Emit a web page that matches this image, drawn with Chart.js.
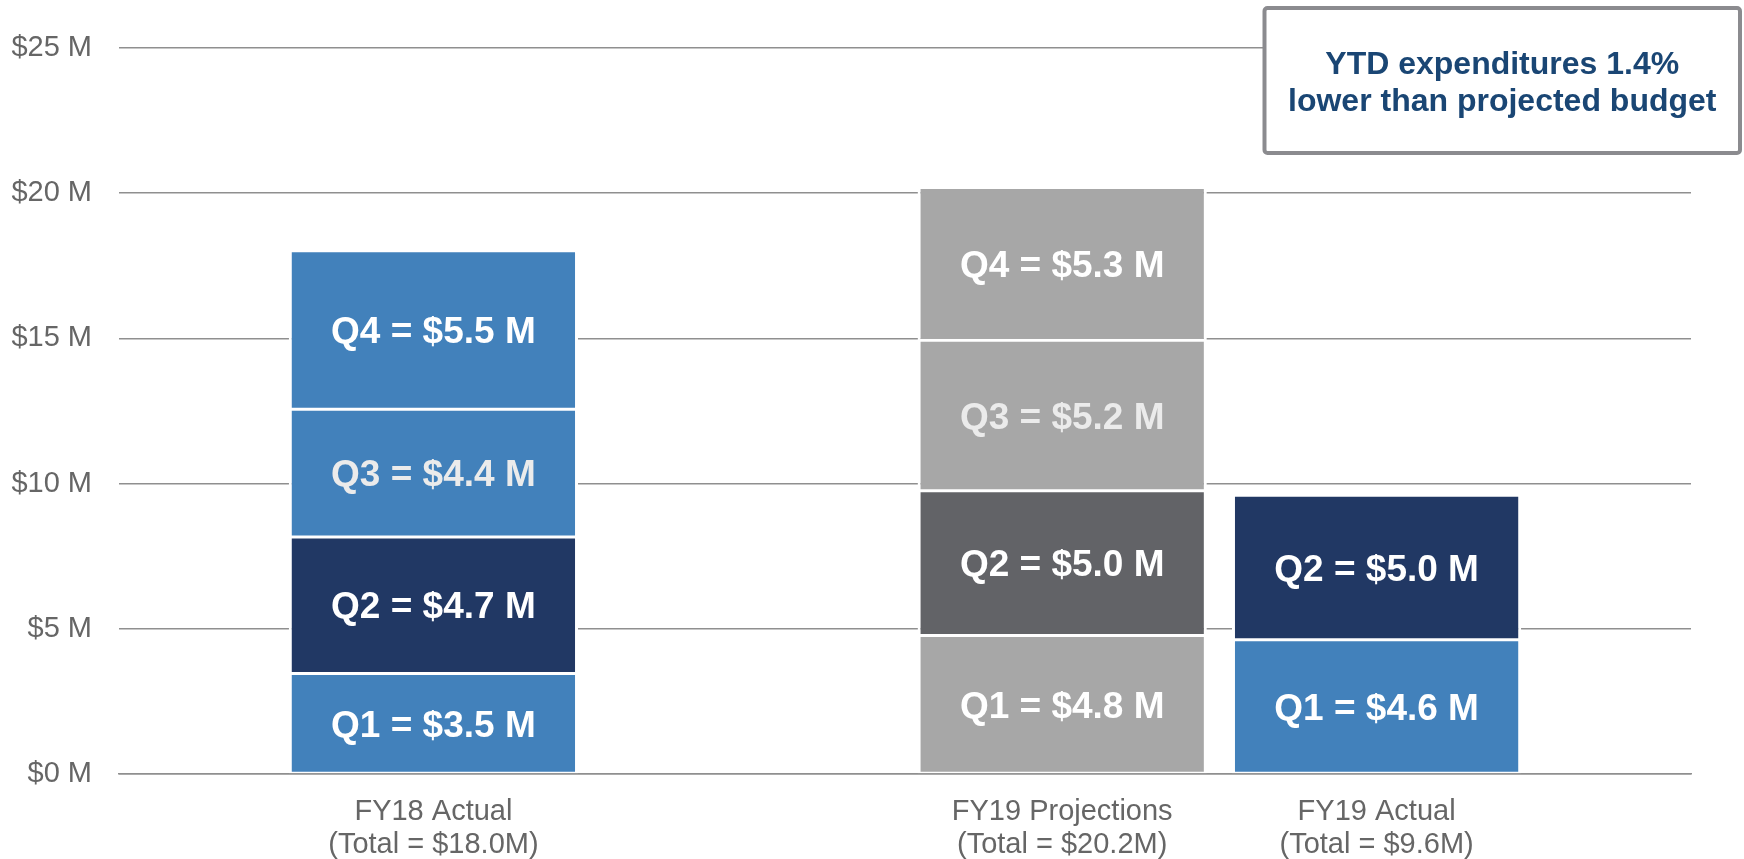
<!DOCTYPE html>
<html>
<head>
<meta charset="utf-8">
<script src="https://cdn.jsdelivr.net/npm/chart.js@4/dist/chart.umd.min.js"></script>
<style>
  html, body { margin: 0; padding: 0; background: #ffffff; }
  #wrap { position: relative; width: 1744px; height: 859px; }
</style>
</head>
<body>
<div id="wrap"><canvas id="c" width="1744" height="859"></canvas></div>
<script>
// ---- data ----
const categoryPositions = [1, 3, 4];
const categoryLines = [
  ["FY18 Actual", "(Total = $18.0M)"],
  ["FY19 Projections", "(Total = $20.2M)"],
  ["FY19 Actual", "(Total = $9.6M)"]
];
const quarterNames = ["Q1", "Q2", "Q3", "Q4"];
const q1Values = [3.46, 4.77, 4.62];
const q2Values = [4.70, 4.98, 4.98];
const q3Values = [4.40, 5.19];
const q4Values = [5.46, 5.26];
const yTickValues = [0, 5, 10, 15, 20, 25];
const noteLines = ["YTD expenditures 1.4%", "lower than projected budget"];

// ---- styles ----
const BLUE = '#4281BB', NAVY = '#213864', LGRAY = '#A7A7A7', DGRAY = '#626367';
const FONT = "'Liberation Sans', Arial, Helvetica, sans-serif";

function pts(vals) { return vals.map((v, i) => ({ x: categoryPositions[i], y: v })); }

const datasets = [
  { label: quarterNames[0], data: pts(q1Values), backgroundColor: [BLUE, LGRAY, BLUE], textColor: '#ffffff' },
  { label: quarterNames[1], data: pts(q2Values), backgroundColor: [NAVY, DGRAY, NAVY], textColor: '#ffffff' },
  { label: quarterNames[2], data: pts(q3Values), backgroundColor: [BLUE, LGRAY], textColor: '#ebebeb' },
  { label: quarterNames[3], data: pts(q4Values), backgroundColor: [BLUE, LGRAY], textColor: '#ffffff' }
].map(d => Object.assign(d, {
  borderColor: '#ffffff',
  borderWidth: { left: 3, right: 3, top: 1.5, bottom: 1.5 },
  borderSkipped: false,
  categoryPercentage: 1.0,
  barPercentage: 0.92
}));

const barLabels = {
  id: 'barLabels',
  afterDatasetsDraw(chart) {
    const ctx = chart.ctx;
    ctx.save();
    ctx.font = "bold 37px " + FONT;
    ctx.textAlign = 'center';
    ctx.textBaseline = 'middle';
    chart.data.datasets.forEach((ds, di) => {
      const meta = chart.getDatasetMeta(di);
      meta.data.forEach((el, i) => {
        const v = ds.data[i].y;
        const c = el.getCenterPoint();
        ctx.fillStyle = ds.textColor;
        ctx.fillText(ds.label + ' = $' + v.toFixed(1) + ' M', c.x, c.y + 3);
      });
    });
    ctx.restore();
  }
};

const noteBox = {
  id: 'noteBox',
  afterDraw(chart) {
    const ctx = chart.ctx;
    ctx.save();
    const x = 1264.5, y = 8, w = 475.5, h = 145;
    ctx.beginPath();
    ctx.roundRect(x, y, w, h, 3);
    ctx.fillStyle = '#ffffff';
    ctx.fill();
    ctx.lineWidth = 4;
    ctx.strokeStyle = '#8b8b8f';
    ctx.stroke();
    ctx.fillStyle = '#1a4674';
    ctx.font = "bold 32px " + FONT;
    ctx.textAlign = 'center';
    ctx.textBaseline = 'alphabetic';
    ctx.fillText(noteLines[0], x + w / 2, 74);
    ctx.fillText(noteLines[1], x + w / 2, 111);
    ctx.restore();
  }
};

new Chart(document.getElementById('c'), {
  type: 'bar',
  data: { datasets },
  plugins: [barLabels, noteBox],
  options: {
    responsive: false,
    animation: false,
    events: [],
    layout: { padding: { left: 11, right: 53, top: 48, bottom: 0 } },
    plugins: { legend: { display: false }, tooltip: { enabled: false } },
    scales: {
      x: {
        type: 'linear',
        stacked: true,
        offset: false,
        min: 0,
        max: 5,
        z: 1,
        afterBuildTicks(s) { s.ticks = categoryPositions.map(v => ({ value: v })); },
        afterFit(s) { s.height = 85; },
        grid: { display: false, offset: false },
        border: { display: true, color: '#8f8f8f', width: 1.5 },
        ticks: {
          autoSkip: false,
          maxRotation: 0,
          padding: 13,
          color: '#666666',
          font: { family: FONT, size: 29, lineHeight: 1.15 },
          callback(v) { const i = categoryPositions.indexOf(v); return i >= 0 ? categoryLines[i] : ''; }
        }
      },
      y: {
        stacked: true,
        min: 0,
        max: 25,
        afterBuildTicks(s) { s.ticks = yTickValues.map(v => ({ value: v })); },
        afterFit(s) { s.width = 108; },
        grid: { color: '#8f8f8f', lineWidth: 1.5, drawTicks: false },
        border: { display: false },
        ticks: {
          padding: 27,
          color: '#666666',
          font: { family: FONT, size: 29 },
          callback(v) { return '$' + v + ' M'; }
        }
      }
    }
  }
});
</script>
</body>
</html>
